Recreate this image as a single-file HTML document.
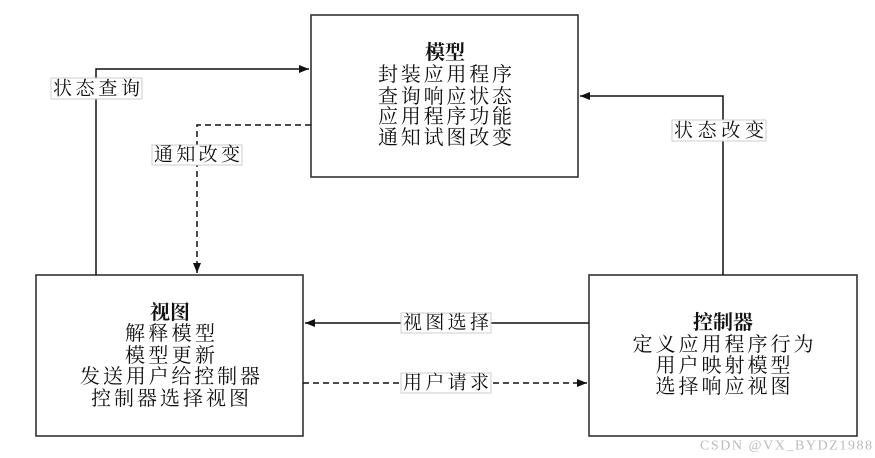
<!DOCTYPE html>
<html><head><meta charset="utf-8"><style>
html,body{margin:0;padding:0;background:#fff;}
svg{display:block;}
text{font-family:"Liberation Serif","Noto Serif CJK SC","Noto Sans CJK SC",serif;fill:#111;}
</style></head><body>
<svg width="875" height="458" viewBox="0 0 875 458" xmlns="http://www.w3.org/2000/svg">
<defs>
<marker id="ah" markerWidth="10" markerHeight="8" refX="10" refY="4" orient="auto" markerUnits="userSpaceOnUse">
<path d="M0,0 L10,4 L0,8 z" fill="#111"/></marker>
</defs>
<g fill="none" stroke="#333" stroke-width="1.6">
<rect x="311" y="15" width="267" height="162"/>
<rect x="36" y="275" width="267" height="161"/>
<rect x="589" y="275" width="268" height="161"/>
</g>
<g stroke="#111" stroke-width="1.5" fill="none">
<polyline points="96,275 96,69 309,69" marker-end="url(#ah)"/>
<polyline points="311,125 197,125 197,273" stroke-dasharray="6,4" marker-end="url(#ah)"/>
<polyline points="723,275 723,96 580,96" marker-end="url(#ah)"/>
<line x1="589" y1="323" x2="305" y2="323" marker-end="url(#ah)"/>
<line x1="303" y1="383" x2="587" y2="383" stroke-dasharray="6,4" marker-end="url(#ah)"/>
</g>
<g fill="#fff" stroke="#ccc" stroke-width="1">
<rect x="51" y="78" width="91" height="21"/>
<rect x="152" y="145" width="90" height="20"/>
<rect x="672" y="120" width="94" height="21"/>
<rect x="401" y="313" width="90" height="20"/>
<rect x="401" y="373" width="90" height="20"/>
</g>
<g font-size="19" dominant-baseline="central">
<text x="53" y="89" textLength="87">状态查询</text>
<text x="154" y="155" textLength="86">通知改变</text>
<text x="674" y="131" textLength="90">状态改变</text>
<text x="403" y="323" textLength="86">视图选择</text>
<text x="403" y="383" textLength="86">用户请求</text>
</g>
<g font-size="20" text-anchor="middle" dominant-baseline="central">
<text x="445" y="53" font-weight="bold" font-family="Liberation Sans,Noto Sans CJK SC,sans-serif">模型</text>
<text x="445" y="75" textLength="134">封装应用程序</text>
<text x="445" y="97" textLength="134">查询响应状态</text>
<text x="445" y="117" textLength="134">应用程序功能</text>
<text x="445" y="138" textLength="134">通知试图改变</text>

<text x="170" y="313" font-weight="bold" font-family="Liberation Sans,Noto Sans CJK SC,sans-serif">视图</text>
<text x="170" y="334" textLength="90">解释模型</text>
<text x="170" y="356" textLength="90">模型更新</text>
<text x="170" y="377" textLength="180">发送用户给控制器</text>
<text x="170" y="399" textLength="158">控制器选择视图</text>

<text x="723" y="323" font-weight="bold" font-family="Liberation Sans,Noto Sans CJK SC,sans-serif">控制器</text>
<text x="723" y="345" textLength="181">定义应用程序行为</text>
<text x="723" y="366" textLength="135">用户映射模型</text>
<text x="723" y="387" textLength="135">选择响应视图</text>
</g>
<text x="700" y="446" font-size="14" style="fill:#bbb" font-family="Liberation Sans,sans-serif" dominant-baseline="central" textLength="172">CSDN @VX_BYDZ1988</text>
</svg>
</body></html>
